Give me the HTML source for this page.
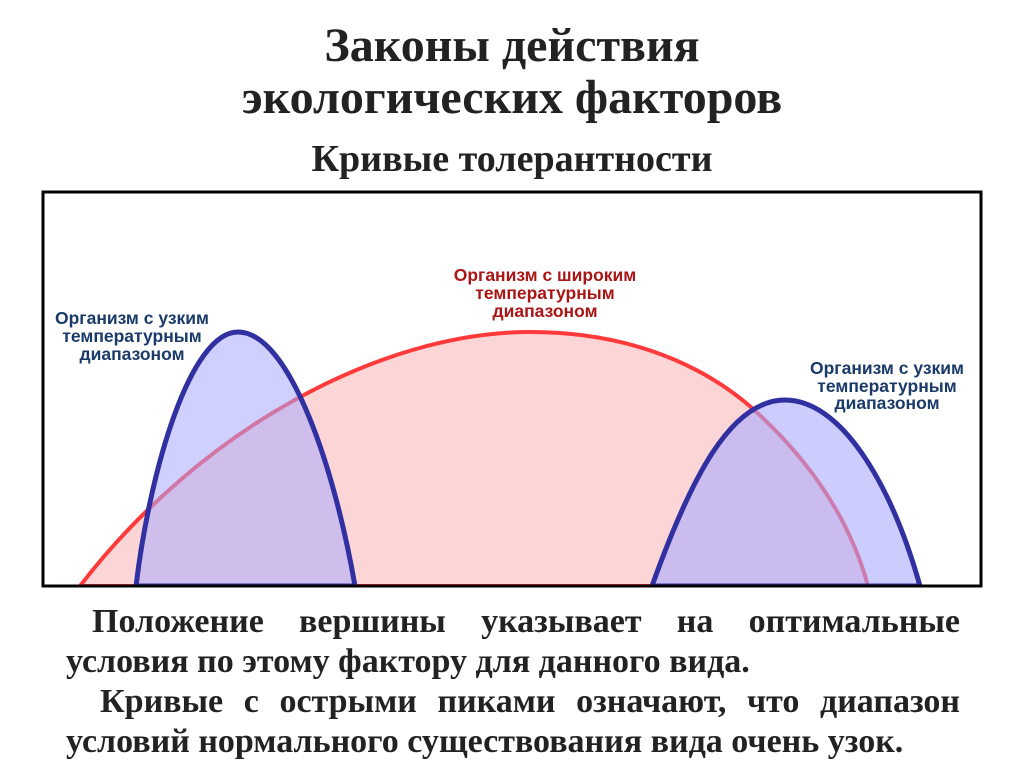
<!DOCTYPE html>
<html><head><meta charset="utf-8"><style>
body{margin:0;width:1024px;height:767px;background:#fff;overflow:hidden;position:relative;font-family:"Liberation Serif",serif}
.t{position:absolute;left:0;width:1024px;text-align:center;font-weight:bold;color:#222;line-height:1.15}
.p{position:absolute;left:66px;width:894px;font-weight:bold;font-size:34px;line-height:39px;color:#222;text-align:justify;text-align-last:justify;white-space:nowrap}
</style></head><body>
<div class="t" style="top:18px;font-size:48px">Законы действия</div>
<div class="t" style="top:70px;font-size:48px">экологических факторов</div>
<div class="t" style="top:138px;font-size:38px">Кривые толерантности</div>
<svg style="position:absolute;left:0;top:0" width="1024" height="767">
<defs><clipPath id="c"><rect x="44" y="193" width="936" height="392"/></clipPath></defs>
<g clip-path="url(#c)">
<path d="M80,586 C200,430 380,332 530,332 C650,332 720,380 752,408 C810,460 850,520 868,586 Z" fill="#fcd6d6" stroke="#ff3a3a" stroke-width="4"/>
<path d="M136,586 C150,470 190,332 238,332 C290,332 335,470 355,586 Z" fill="rgba(170,170,255,0.55)" stroke="#3030a0" stroke-width="5"/>
<path d="M652,586 C690,480 730,400 785,400 C840,400 890,480 920,586 Z" fill="rgba(170,170,255,0.6)" stroke="#3030a0" stroke-width="5"/>
</g>
<rect x="43" y="192" width="938" height="394" fill="none" stroke="#000" stroke-width="3"/>
<g font-family="Liberation Sans, sans-serif" font-weight="bold" font-size="17.5" text-anchor="middle">
<g fill="#1a3a6a"><text x="132" y="324">Организм с узким</text><text x="132" y="342">температурным</text><text x="132" y="360">диапазоном</text>
<text x="887" y="374">Организм с узким</text><text x="887" y="392">температурным</text><text x="887" y="409">диапазоном</text></g>
<g fill="#aa1515"><text x="545" y="281">Организм с широким</text><text x="545" y="299">температурным</text><text x="545" y="317">диапазоном</text></g>
</g></svg>
<div class="p" style="top:602px;left:92px;width:868px">Положение вершины указывает на оптимальные</div>
<div class="p" style="top:642px;text-align-last:left">условия по этому фактору для данного вида.</div>
<div class="p" style="top:682px;left:100px;width:860px">Кривые с острыми пиками означают, что диапазон</div>
<div class="p" style="top:722px;text-align-last:left">условий нормального существования вида очень узок.</div>
</body></html>
